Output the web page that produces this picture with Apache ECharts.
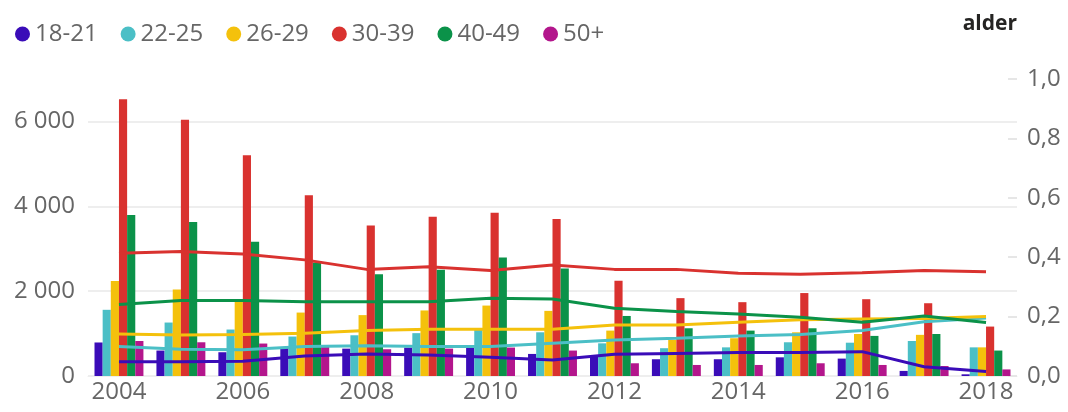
<!DOCTYPE html>
<html>
<head>
<meta charset="utf-8">
<script src="https://cdn.jsdelivr.net/npm/echarts@6/dist/echarts.min.js"></script>
<style>
html, body { margin: 0; padding: 0; background: #fff; }
#chart { width: 1068px; height: 412px; }
</style>
</head>
<body>
<div id="chart"></div>
<script>
// år
var years = ['2004','2005','2006','2007','2008','2009','2010','2011','2012','2013','2014','2015','2016','2017','2018'];
var groups = ['18-21','22-25','26-29','30-39','40-49','50+'];
var colors = ['#3a0cb8','#4bbfc6','#f4c10c','#d9322f','#0b9249','#b3168c'];

// antall (venstre akse)
var antall1821 = [790, 600, 560, 670, 645, 670, 670, 520, 455, 395, 395, 440, 410, 120, 40];
var antall2225 = [1560, 1260, 1095, 930, 960, 1010, 1125, 1030, 770, 655, 675, 795, 785, 825, 675];
var antall2629 = [2240, 2040, 1810, 1495, 1435, 1545, 1660, 1535, 1070, 850, 890, 1030, 990, 970, 675];
var antall3039 = [6520, 6040, 5205, 4260, 3550, 3755, 3845, 3700, 2245, 1835, 1740, 1955, 1810, 1715, 1165];
var antall4049 = [3795, 3630, 3165, 2675, 2400, 2505, 2795, 2535, 1415, 1125, 1070, 1125, 945, 990, 600];
var antall50 = [825, 795, 765, 715, 630, 645, 670, 600, 300, 260, 260, 300, 260, 235, 155];

// andel (høyre akse)
var andel1821 = [0.048, 0.048, 0.050, 0.067, 0.074, 0.071, 0.063, 0.054, 0.073, 0.076, 0.079, 0.079, 0.082, 0.031, 0.015];
var andel2225 = [0.099, 0.090, 0.088, 0.099, 0.102, 0.099, 0.099, 0.110, 0.121, 0.127, 0.135, 0.140, 0.153, 0.183, 0.195];
var andel2629 = [0.141, 0.138, 0.140, 0.144, 0.153, 0.157, 0.157, 0.157, 0.172, 0.172, 0.181, 0.189, 0.192, 0.194, 0.200];
var andel3039 = [0.413, 0.419, 0.411, 0.391, 0.359, 0.368, 0.355, 0.374, 0.359, 0.359, 0.346, 0.343, 0.348, 0.355, 0.351];
var andel4049 = [0.241, 0.254, 0.254, 0.250, 0.250, 0.250, 0.262, 0.259, 0.228, 0.217, 0.209, 0.198, 0.181, 0.202, 0.180];

var antall = [antall1821, antall2225, antall2629, antall3039, antall4049, antall50];
var andel = [andel1821, andel2225, andel2629, andel3039, andel4049];

var font = '"Open Sans", sans-serif';

var series = [];
antall.forEach(function (d, i) {
    series.push({
        name: groups[i],
        type: 'bar',
        data: d,
        yAxisIndex: 0,
        barGap: '0%',
        barCategoryGap: '21%',
        itemStyle: { color: colors[i] }
    });
});
andel.forEach(function (d, i) {
    series.push({
        name: groups[i] + ' andel',
        type: 'line',
        data: d,
        yAxisIndex: 1,
        symbol: 'none',
        z: 5,
        lineStyle: { color: colors[i], width: 3 }
    });
});

var chart = echarts.init(document.getElementById('chart'));
chart.setOption({
    animation: false,
    textStyle: { fontFamily: font },
    title: {
        text: 'alder',
        right: 46,
        top: 9,
        textStyle: { fontFamily: font, fontSize: 21, fontWeight: 'bold', color: '#252423' }
    },
    legend: {
        data: groups,
        left: 10,
        top: 17,
        icon: 'circle',
        itemWidth: 15,
        itemHeight: 15,
        itemGap: 23,
        textStyle: { fontFamily: font, fontSize: 24, color: '#666' }
    },
    grid: { left: 88, right: 51, top: 79, bottom: 36, containLabel: false },
    xAxis: {
        type: 'category',
        data: years,
        axisTick: { show: false },
        axisLine: { lineStyle: { color: '#eeeeee' } },
        axisLabel: { interval: 1, fontSize: 24, color: '#666', margin: 4 }
    },
    yAxis: [
        {
            type: 'value',
            min: 0,
            max: 7000,
            interval: 2000,
            axisLine: { show: false },
            axisTick: { show: false },
            axisLabel: {
                fontSize: 24,
                color: '#666',
                margin: 13,
                showMaxLabel: false,
                formatter: function (v) { return String(v).replace(/\B(?=(\d{3})+(?!\d))/g, ' '); }
            },
            splitLine: { showMaxLine: false, lineStyle: { color: '#eeeeee', width: 2 } }
        },
        {
            type: 'value',
            min: 0,
            max: 1,
            interval: 0.2,
            position: 'right',
            splitLine: { show: false },
            axisLine: { show: false },
            axisTick: { show: true, inside: true, length: 9, lineStyle: { color: '#e6e6e6', width: 2 } },
            axisLabel: {
                fontSize: 24,
                color: '#666',
                margin: 10,
                formatter: function (v) { return v.toFixed(1).replace('.', ','); }
            }
        }
    ],
    series: series
});
</script>
</body>
</html>
